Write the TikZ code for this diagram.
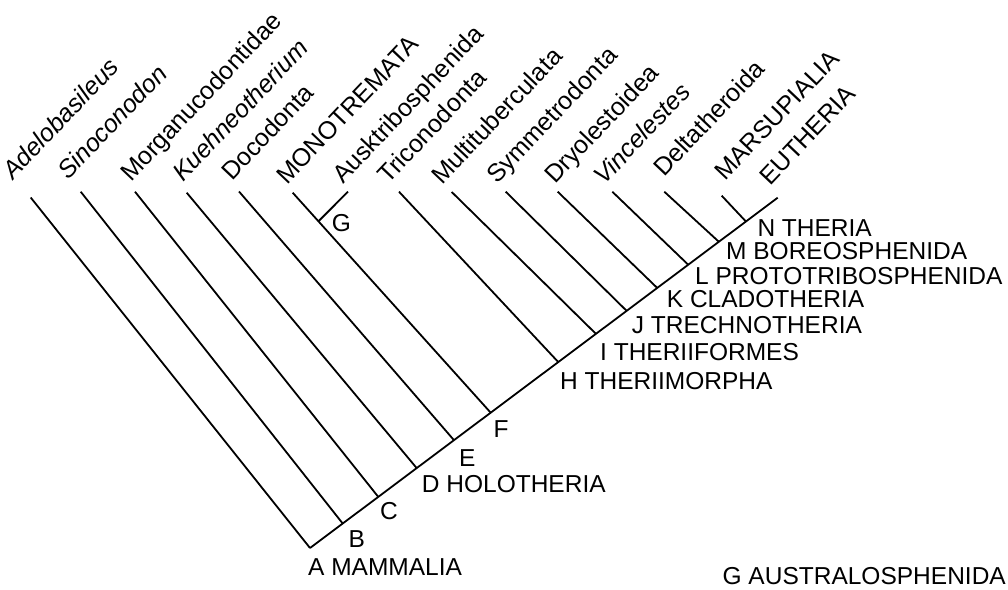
\documentclass[tikz,border=0pt]{standalone}
\usepackage{fontspec}
\setmainfont{Liberation Sans}
\usepackage{tikz}
\usetikzlibrary{calc}

\begin{document}
\begin{tikzpicture}[
  x=1pt,
  y=-1pt,
  font=\fontsize{24.5}{29}\selectfont,
  branch/.style={draw=black, line width=1.8pt},
  taxon/.style={anchor=base west, rotate=46.5, inner sep=0pt,
    font=\fontsize{25}{30}\selectfont},
  clade/.style={anchor=base west, inner sep=0pt}
]
\useasboundingbox (0,0) rectangle (1008,589);

% Junctions on the main stem
\coordinate (mammalia) at (310,548);
\coordinate (nodeB) at (342.7,523.5);
\coordinate (nodeC) at (378.3,496.9);
\coordinate (holotheria) at (416.7,468.1);
\coordinate (nodeE) at (454,440.2);
\coordinate (nodeF) at (490.7,412.7);
\coordinate (theriimorpha) at (558.3,362.1);
\coordinate (theriiformes) at (596,333.9);
\coordinate (trechnotheria) at (626.7,310.9);
\coordinate (cladotheria) at (657.3,288);
\coordinate (prototribo) at (688.3,264.8);
\coordinate (boreo) at (719,241.9);
\coordinate (theria) at (746,221.6);
\coordinate (eutheria) at (777.7,197.7);

% Tips of the side branches
\coordinate (adelo) at (30.7,197.5);
\coordinate (sino) at (80.7,191.7);
\coordinate (morgan) at (135,191.7);
\coordinate (kuehn) at (186.7,192.7);
\coordinate (docod) at (239,191.5);
\coordinate (monot) at (292.7,192.7);
\coordinate (auskt) at (348,191.7);
\coordinate (tricon) at (399,191.7);
\coordinate (multi) at (451.7,192);
\coordinate (symme) at (505.7,191.7);
\coordinate (dryol) at (557.7,191.7);
\coordinate (vince) at (612.3,191.7);
\coordinate (delta) at (664.3,191.7);
\coordinate (marsu) at (721.7,195.7);
\coordinate (australo) at ($(monot)!0.13!(nodeF)$);

% Tree
\draw[branch] (mammalia) -- (eutheria);
\foreach \tip/\base in {adelo/mammalia, sino/nodeB, morgan/nodeC,
    kuehn/holotheria, docod/nodeE, monot/nodeF, auskt/australo,
    tricon/theriimorpha, multi/theriiformes, symme/trechnotheria,
    dryol/cladotheria, vince/prototribo, delta/boreo, marsu/theria}
  \draw[branch] (\tip) -- (\base);

% Taxon names
\node[taxon] (tAdelo) at (13,181) {\itshape Adelobasileus};
\node[taxon] (tSino) at (68,181) {\itshape Sinoconodon};
\node[taxon] (tMorgan) at (131,183) {Morganucodontidae};
\node[taxon] (tKuehn) at (183,183) {\itshape Kuehneotherium};
\node[taxon] (tDocod) at (232,182) {Docodonta};
\node[taxon] (tMonot) at (287,186) {MONOTREMATA};
\node[taxon] (tAuskt) at (343,185) {Ausktribosphenida};
\node[taxon] (tTricon) at (388,185) {Triconodonta};
\node[taxon] (tMulti) at (442,186) {Multituberculata};
\node[taxon] (tSymme) at (497,185) {Symmetrodonta};
\node[taxon] (tDryol) at (555,185) {Dryolestoidea};
\node[taxon] (tVince) at (604,186) {\itshape Vincelestes};
\node[taxon] (tDelta) at (664,178) {Deltatheroida};
\node[taxon] (tMarsu) at (725,182) {MARSUPIALIA};
\node[taxon] (tEuth) at (770,187) {EUTHERIA};

% Clade letters
\node[clade] (lA) at (308,575) {A MAMMALIA};
\node[clade] (lB) at (348.3,547.3) {B};
\node[clade] (lC) at (380,519.3) {C};
\node[clade] (lD) at (421.7,492.7) {D HOLOTHERIA};
\node[clade] (lE) at (459,466.7) {E};
\node[clade] (lF) at (493.3,437.7) {F};
\node[clade] (lG) at (331.7,231.7) {G};
\node[clade] (lH) at (560,389.3) {H THERIIMORPHA};
\node[clade] (lI) at (600,360.7) {I THERIIFORMES};
\node[clade] (lJ) at (631.7,333.3) {J TRECHNOTHERIA};
\node[clade] (lK) at (666.7,307.3) {K CLADOTHERIA};
\node[clade] (lL) at (695,284) {L PROTOTRIBOSPHENIDA};
\node[clade] (lM) at (726,259.3) {M BOREOSPHENIDA};
\node[clade] (lN) at (757.3,236) {N THERIA};
\node[clade, anchor=base east] (lGkey) at (1006,584.5) {G AUSTRALOSPHENIDA};
\end{tikzpicture}
\end{document}
